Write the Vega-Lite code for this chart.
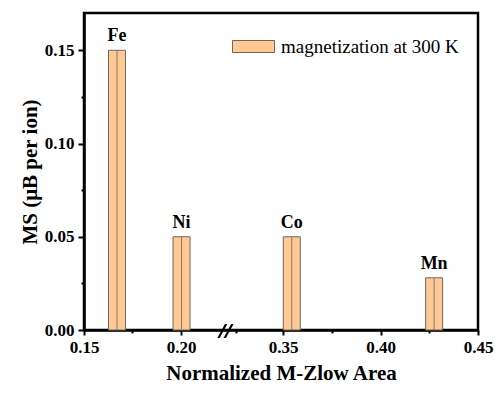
{
  "$schema": "https://vega.github.io/schema/vega-lite/v6.json",
  "width": 394,
  "height": 317,
  "autosize": {"type": "none"},
  "padding": {"left": 84, "top": 13, "right": 17, "bottom": 63},
  "background": "white",
  "config": {
    "font": "Liberation Serif",
    "view": {"stroke": "black", "strokeWidth": 2.5},
    "axis": {
      "domainColor": "black",
      "domainWidth": 2.5,
      "tickColor": "black",
      "tickWidth": 2,
      "labelColor": "black",
      "labelFont": "Liberation Serif",
      "labelFontWeight": "bold",
      "labelFontSize": 17,
      "labelFlush": false,
      "labelOverlap": false,
      "titleFont": "Liberation Serif",
      "titleFontWeight": "bold",
      "titleFontSize": 21,
      "titleColor": "black",
      "grid": false
    }
  },
  "data": {
    "values": [
      {"element": "Fe", "area": 0.167, "ms": 0.15, "series": "magnetization at 300 K"},
      {"element": "Ni", "area": 0.2008, "ms": 0.05, "series": "magnetization at 300 K"},
      {"element": "Co", "area": 0.3545, "ms": 0.05, "series": "magnetization at 300 K"},
      {"element": "Mn", "area": 0.4275, "ms": 0.028, "series": "magnetization at 300 K"}
    ]
  },
  "layer": [
    {
      "mark": {"type": "bar", "size": 17, "stroke": "#6f6660", "strokeWidth": 1},
      "encoding": {
        "x": {
          "field": "area",
          "type": "quantitative",
          "scale": {"domain": [0.15, 0.2, 0.35, 0.45], "range": [0, 97, 199, 394], "nice": false, "zero": false, "padding": 0},
          "axis": {
            "orient": "bottom",
            "values": [0.15, 0.2, 0.35, 0.4, 0.45],
            "format": ".2f",
            "tickSize": 5,
            "labelPadding": 4,
            "title": "Normalized M-Zlow Area",
            "titlePadding": 7
          }
        },
        "y": {
          "field": "ms",
          "type": "quantitative",
          "scale": {"domain": [0, 0.17], "nice": false, "zero": true, "padding": 0},
          "axis": {
            "orient": "left",
            "values": [0, 0.05, 0.1, 0.15],
            "format": ".2f",
            "tickSize": 6,
            "labelPadding": 4,
            "title": "MS (μB per ion)",
            "titlePadding": 4
          }
        },
        "color": {
          "field": "series",
          "type": "nominal",
          "scale": {"range": ["#FFC994"]},
          "legend": {
            "title": null,
            "orient": "none",
            "legendX": 148,
            "legendY": 12,
            "symbolType": "M-1,-0.2857H1V0.2857H-1Z",
            "symbolSize": 1764,
            "symbolStrokeColor": "#6f6660",
            "symbolStrokeWidth": 1,
            "symbolFillColor": "#FFC994",
            "labelFont": "Liberation Serif",
            "labelFontSize": 19,
            "labelColor": "black",
            "labelOffset": 6,
            "labelLimit": 400
          }
        }
      }
    },
    {
      "mark": {"type": "rule", "color": "#8a7a6e", "strokeWidth": 1},
      "encoding": {
        "x": {
          "field": "area",
          "type": "quantitative",
          "axis": {"orient": "bottom", "values": [0.175, 0.281, 0.375, 0.425], "tickSize": 3, "labels": false, "domain": false, "title": null}
        },
        "y": {
          "field": "ms",
          "type": "quantitative",
          "axis": {"orient": "left", "values": [0.025, 0.075, 0.125], "tickSize": 3, "labels": false, "domain": false, "title": null}
        },
        "y2": {"datum": 0}
      }
    },
    {
      "mark": {"type": "text", "fontSize": 18, "fontWeight": "bold", "baseline": "alphabetic", "dy": -9, "color": "black", "font": "Liberation Serif"},
      "encoding": {
        "x": {"field": "area", "type": "quantitative", "axis": null},
        "y": {"field": "ms", "type": "quantitative", "axis": null},
        "text": {"field": "element"}
      }
    },
    {
      "mark": {"type": "text", "text": "//", "fontSize": 22, "fontWeight": "bold", "fontStyle": "italic", "baseline": "middle", "align": "center", "dy": 1, "color": "black", "font": "Liberation Serif"},
      "encoding": {
        "x": {"datum": 0.265, "type": "quantitative", "axis": null},
        "y": {"datum": 0, "type": "quantitative", "axis": null}
      }
    }
  ],
  "resolve": {"axis": {"x": "independent", "y": "independent"}}
}
